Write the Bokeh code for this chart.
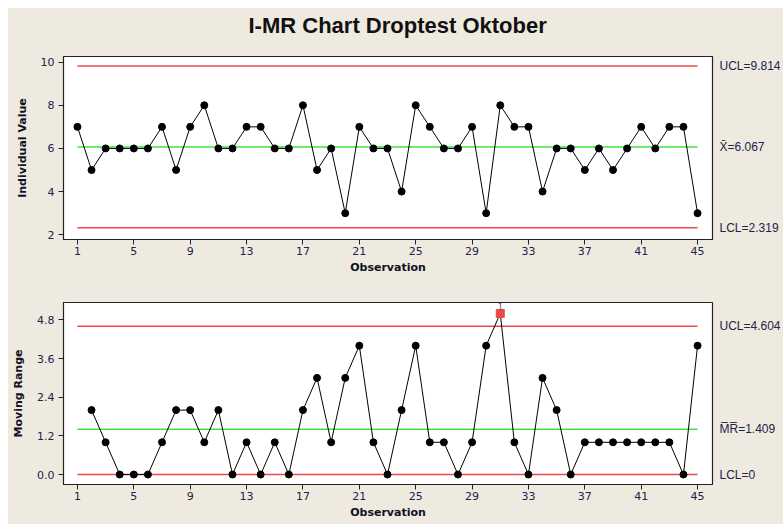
from bokeh.plotting import figure
from bokeh.layouts import column, row
from bokeh.models import (Label, FixedTicker, NumeralTickFormatter, Range1d,
                          ColumnDataSource, LinearAxis, Spacer)
from bokeh.core.properties import value
from bokeh.embed import file_html
from bokeh.resources import INLINE

# ---- data ----
chart_title = "I-MR Chart Droptest Oktober"
obs = list(range(1, 46))
individual = [7, 5, 6, 6, 6, 6, 7, 5, 7, 8, 6, 6, 7, 7, 6, 6, 8, 5, 6, 3, 7, 6, 6, 4, 8,
              7, 6, 6, 7, 3, 8, 7, 7, 4, 6, 6, 5, 6, 5, 6, 7, 6, 7, 7, 3]
mr_obs = list(range(2, 46))
moving_range = [2, 1, 0, 0, 0, 1, 2, 2, 1, 2, 0, 1, 0, 1, 0, 2, 3, 1, 3, 4, 1, 0, 2, 4,
                1, 1, 0, 1, 4, 5, 1, 0, 3, 2, 0, 1, 1, 1, 1, 1, 1, 1, 0, 4]
i_ucl, i_center, i_lcl = 9.814, 6.067, 2.319
mr_ucl, mr_center, mr_lcl = 4.604, 1.409, 0.0
x_ticks = list(range(1, 46, 4))
i_ticks = [2, 4, 6, 8, 10]
mr_ticks = [0.0, 1.2, 2.4, 3.6, 4.8]

BG = "#EEEAE0"
RED = "#F04848"
GREEN = "#3CE43C"
TICK_COL = "#23234a"
FONT = "DejaVu Sans"


def style(p, ylabel):
    p.background_fill_color = "white"
    p.border_fill_color = BG
    p.outline_line_color = "#222222"
    p.outline_line_width = 1.2
    p.xgrid.visible = False
    p.ygrid.visible = False
    for ax in (p.xaxis[0], p.yaxis[0]):
        ax.major_tick_out = 5
        ax.major_tick_in = 0
        ax.minor_tick_out = 0
        ax.minor_tick_in = 0
        ax.axis_line_color = "#222222"
        ax.major_tick_line_color = "#222222"
        ax.major_label_text_font = FONT
        ax.major_label_text_font_size = "11px"
        ax.major_label_text_color = TICK_COL
        ax.axis_label_text_font = FONT
        ax.axis_label_text_font_style = "bold"
        ax.axis_label_text_font_size = "11px"
        ax.axis_label_text_color = "#111122"
    p.xaxis.ticker = FixedTicker(ticks=x_ticks)
    p.xaxis.axis_label = "Observation"
    p.xaxis.major_label_standoff = 2
    p.xaxis.axis_label_standoff = 3
    p.yaxis.axis_label = ylabel
    p.yaxis.major_label_standoff = 4
    p.yaxis.axis_label_standoff = 9


def limit_axis(p, values, texts):
    ax = LinearAxis(ticker=FixedTicker(ticks=values),
                    major_label_overrides={v: t for v, t in zip(values, texts)})
    ax.axis_line_color = None
    ax.major_tick_line_color = None
    ax.minor_tick_line_color = None
    ax.major_tick_out = 0
    ax.major_tick_in = 0
    ax.major_label_standoff = 7
    ax.major_label_text_font = "Liberation Sans"
    ax.major_label_text_font_size = "12px"
    ax.major_label_text_color = TICK_COL
    p.add_layout(ax, "right")


# ---- title strip ----
p0 = figure(width=775, height=36, output_backend="svg", toolbar_location=None,
            x_range=Range1d(0, 775), y_range=Range1d(0, 36),
            x_axis_type=None, y_axis_type=None, min_border=0)
p0.background_fill_color = BG
p0.border_fill_color = BG
p0.outline_line_color = None
p0.xgrid.visible = False
p0.ygrid.visible = False
p0.text(x=[399], y=[19], text=[chart_title], text_align="center", text_baseline="middle",
        text_font=value("Liberation Sans"), text_font_style="bold",
        text_font_size="22px", text_color="#111111")

# ---- top: individual values ----
p1 = figure(width=775, height=240, output_backend="svg", toolbar_location=None,
            x_range=Range1d(0.01, 46.06), y_range=Range1d(1.78, 10.26),
            min_border_left=55, min_border_right=68, min_border_top=12, min_border_bottom=45)
style(p1, "Individual Value")
p1.yaxis.ticker = FixedTicker(ticks=i_ticks)

for v, c in ((i_ucl, RED), (i_center, GREEN), (i_lcl, RED)):
    p1.line(x=[1, 45], y=[v, v], line_color=c, line_width=1.5)
src1 = ColumnDataSource(dict(x=obs, y=individual))
p1.line("x", "y", source=src1, line_color="black", line_width=1)
p1.scatter("x", "y", source=src1, size=7, marker="circle", color="black")
limit_axis(p1, [i_ucl, i_center, i_lcl],
           ["UCL=%.3f" % i_ucl, "X\u0304=%.3f" % i_center, "LCL=%.3f" % i_lcl])

# ---- bottom: moving range ----
p2 = figure(width=775, height=240, output_backend="svg", toolbar_location=None,
            x_range=Range1d(0.01, 46.06), y_range=Range1d(-0.31, 5.34),
            min_border_left=55, min_border_right=68, min_border_top=18, min_border_bottom=40)
style(p2, "Moving Range")
p2.yaxis.ticker = FixedTicker(ticks=mr_ticks)
p2.yaxis.formatter = NumeralTickFormatter(format="0.0")

for v, c in ((mr_ucl, RED), (mr_center, GREEN), (mr_lcl, RED)):
    p2.line(x=[1, 45], y=[v, v], line_color=c, line_width=1.5)
colors = [RED if v > mr_ucl else "black" for v in moving_range]
markers = ["square" if v > mr_ucl else "circle" for v in moving_range]
sizes = [8 if v > mr_ucl else 7 for v in moving_range]
src2 = ColumnDataSource(dict(x=mr_obs, y=moving_range, c=colors, m=markers, s=sizes))
p2.line("x", "y", source=src2, line_color="black", line_width=1)
p2.scatter("x", "y", source=src2, size="s", marker="m", color="c")
for xv, yv in zip(mr_obs, moving_range):
    if yv > mr_ucl:
        p2.add_layout(Label(x=xv, y=yv, text="1", text_font=FONT, text_font_size="8px",
                            text_color="#446688", text_align="center",
                            text_baseline="bottom", y_offset=3))
limit_axis(p2, [mr_ucl, mr_center, mr_lcl],
           ["UCL=%.3f" % mr_ucl, "M\u0305R\u0305=%.3f" % mr_center, "LCL=%d" % mr_lcl])

charts = column(p0, p1, p2, spacing=0, styles={"background-color": BG})
layout = column(Spacer(height=8), row(Spacer(width=8), charts, spacing=0), spacing=0)
open("out.html", "w").write(file_html(layout, INLINE))
